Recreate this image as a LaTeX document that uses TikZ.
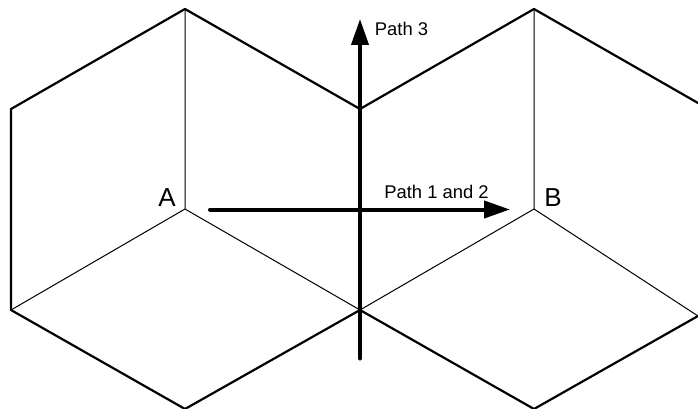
\documentclass[tikz,border=0pt]{standalone}
\usepackage{fontspec}
\setmainfont{Liberation Sans}
\usetikzlibrary{arrows.meta}
\begin{document}
\begin{tikzpicture}[x=1pt,y=-1pt,
  hexedge/.style={line width=2.2pt,line cap=round,line join=round},
  thin edge/.style={line width=1pt},
  patharrow/.style={line width=4pt,line cap=round,-{Triangle[length=26pt,width=17pt]}},
  lab/.style={inner sep=0pt,font=\fontsize{18.4}{20}\selectfont},
  big/.style={inner sep=0pt,font=\fontsize{26}{28}\selectfont}]
\useasboundingbox (0,0) rectangle (698,409);
\coordinate (t1) at (185,9);
\coordinate (l1) at (11,109);
\coordinate (l2) at (11,310);
\coordinate (b1) at (185,409);
\coordinate (m) at (360,310);
\coordinate (u) at (360,109);
\coordinate (t2) at (534,9);
\coordinate (r1) at (698,103);
\coordinate (r2) at (698,316);
\coordinate (b2) at (534,409);
\coordinate (c1) at (185,209);
\coordinate (c2) at (534,209);
\draw[hexedge] (b1)--(l2)--(l1)--(t1)--(u)--(t2)--(r1);
\draw[hexedge] (b1)--(m)--(b2)--(r2);
\draw[thin edge] (t1)--(c1) (l2)--(c1)--(m)--(c2)--(t2) (c2)--(r2);
\coordinate (as) at (210,209.5);
\coordinate (ae) at (510,209.5);
\coordinate (vs) at (360,358.5);
\coordinate (ve) at (360,19);
\draw[patharrow] (as)--(ae);
\draw[patharrow] (vs)--(ve);
\node[big] (A) at (167,198) {A};
\node[big] (B) at (553,198) {B};
\node[lab] (p3) at (401.5,29) {Path 3};
\node[lab] (p12) at (436.5,192) {Path 1 and 2};
\end{tikzpicture}
\end{document}
